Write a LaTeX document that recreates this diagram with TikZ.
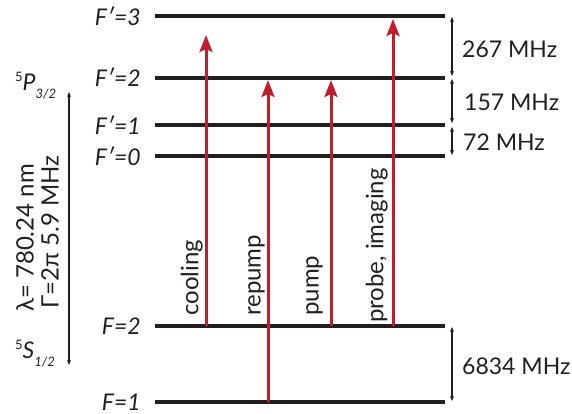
\documentclass[tikz,border=0pt]{standalone}
\usepackage{fontspec}
\setmainfont{Lato}
\usetikzlibrary{arrows.meta}
\definecolor{lasered}{RGB}{190,30,45}
\definecolor{ink}{RGB}{35,31,32}
\begin{document}
\begin{tikzpicture}[x=1pt,y=-1pt,
  level/.style={line width=3.5pt, ink},
  laser/.style={line width=3pt, lasered, -{Stealth[length=17pt,width=13pt,inset=3pt]}},
  gap/.style={line width=1.1pt, ink, {Stealth[length=5pt,width=4pt]}-{Stealth[length=5pt,width=4pt]}},
  lab/.style={font=\fontsize{23}{27}\selectfont, inner sep=0pt, text=ink},
  flab/.style={lab, font=\fontsize{23}{27}\selectfont\itshape, anchor=east},
  vlab/.style={lab, font=\fontsize{24}{28}\selectfont, rotate=90, anchor=south west}]
\useasboundingbox (0,0) rectangle (572,414);
% levels
\foreach \n/\y in {e3/16, e2/78, e1/125, e0/156, g2/326, g1/402}{
  \coordinate (\n L) at (155,\y);
  \coordinate (\n R) at (445,\y);
  \draw[level] (\n L) -- (\n R);
}
% level labels
\node[flab] (le3) at (141,16) {F′=3};
\node[flab] (le2) at (141,77) {F′=2};
\node[flab] (le1) at (141,125) {F′=1};
\node[flab] (le0) at (141,156) {F′=0};
\node[flab] (lg2) at (141,326) {F=2};
\node[flab] (lg1) at (141,402) {F=1};
% lasers
\coordinate (cA) at (206,326); \coordinate (cB) at (206,35);
\coordinate (rA) at (268,402); \coordinate (rB) at (268,80);
\coordinate (pA) at (331,326); \coordinate (pB) at (331,80);
\coordinate (iA) at (393,326); \coordinate (iB) at (393,19);
\draw[laser] (cA) -- (cB);
\draw[laser] (rA) -- (rB);
\draw[laser] (pA) -- (pB);
\draw[laser] (iA) -- (iB);
\node[vlab] (tc) at (203,316) {cooling};
\node[vlab] (tr) at (265,316) {repump};
\node[vlab] (tp) at (323,316) {pump};
\node[vlab] (ti) at (388,323) {probe, imaging};
% splittings
\coordinate (s3) at (452,17); \coordinate (s2a) at (452,76);
\coordinate (s2b) at (452,79); \coordinate (s1a) at (452,123);
\coordinate (s1b) at (452,127); \coordinate (s0) at (452,155);
\coordinate (sg2) at (452,327); \coordinate (sg1) at (452,401);
\draw[gap] (s3) -- (s2a);
\draw[gap] (s2b) -- (s1a);
\draw[gap] (s1b) -- (s0);
\draw[gap] (sg2) -- (sg1);
\node[lab, anchor=west] (f267) at (462,49) {267 MHz};
\node[lab, anchor=west] (f157) at (464,102) {157 MHz};
\node[lab, anchor=west] (f72) at (463,142) {72 MHz};
\node[lab, anchor=west] (f6834) at (462,366) {6834 MHz};
% left: optical transition
\coordinate (lT) at (69,92); \coordinate (lB) at (69,365);
\draw[gap] (lT) -- (lB);
\node[lab, anchor=base west] (P32) at (15,91) {\raisebox{9pt}{\fontsize{13}{13}\selectfont 5}\textit{P}\raisebox{-8pt}{\fontsize{13}{13}\selectfont\itshape 3/2}};
\node[lab, anchor=base west] (S12) at (15,358) {\raisebox{9pt}{\fontsize{13}{13}\selectfont 5}\textit{S}\raisebox{-8pt}{\fontsize{13}{13}\selectfont\itshape 1/2}};
\node[lab, font=\fontsize{24}{28}\selectfont, rotate=90] (lam) at (25,238) {λ= 780.24 nm};
\node[lab, font=\fontsize{24}{28}\selectfont, rotate=90] (gam) at (50,232) {Γ=2π 5.9 MHz};
\end{tikzpicture}
\end{document}
